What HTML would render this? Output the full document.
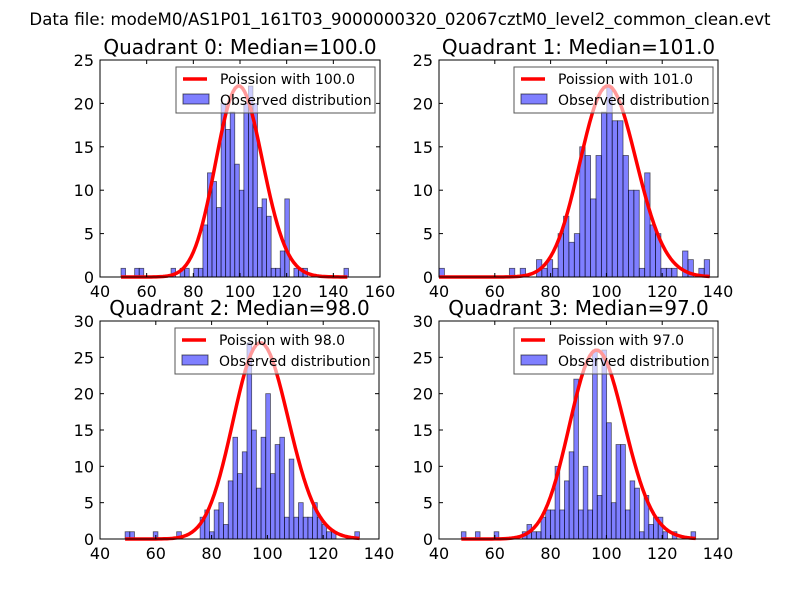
<!DOCTYPE html>
<html><head><meta charset="utf-8"><style>
body{margin:0;background:#fff;}
svg text{font-family:"DejaVu Sans","Liberation Sans",sans-serif;}
</style></head><body>
<svg id="c" width="800" height="600" xmlns="http://www.w3.org/2000/svg">
<rect width="800" height="600" fill="#fff"/>
<text x="400" y="25" text-anchor="middle" font-size="16.6">Data file: modeM0/AS1P01_161T03_9000000320_02067cztM0_level2_common_clean.evt</text>
</svg>
<script>
const q0Counts=[1,0,0,1,1,0,0,0,0,0,0,1,0,1,1,0,1,1,6,12,11,8,20,17,19,13,10,20,22,20,8,9,7,1,1,3,9,0,1,1,1,0,0,0,0,0,0,0,0,1];
const q1Counts=[1,0,0,0,0,0,0,0,0,0,0,0,0,1,0,1,0,0,2,1,2,1,5,7,4,5,15,14,9,14,19,22,18,18,14,10,10,1,12,6,5,1,1,1,0,3,2,0,1,2];
const q2Counts=[1,1,0,0,0,0,1,0,0,0,0,1,0,0,0,0,3,4,1,4,5,2,8,14,9,12,27,15,7,14,20,9,13,14,3,11,3,5,3,3,5,3,2,1,1,0,0,0,0,1];
const q3Counts=[1,0,0,1,0,0,0,1,0,0,0,0,0,1,2,1,1,3,4,4,10,4,8,12,22,4,10,4,26,6,26,16,5,13,13,4,8,7,1,6,2,3,3,1,0,1,0,0,0,1];
const dataMin=[49,40,49,48];
const dataMax=[146.5,137,133,132];
const medians=[100.0,101.0,98.0,97.0];
const sampleCounts=[283,286,399,382];
const xTicks=[[40,60,80,100,120,140,160],[40,60,80,100,120,140],[40,60,80,100,120,140],[40,60,80,100,120,140]];
const yTicks=[[0,5,10,15,20,25],[0,5,10,15,20,25],[0,5,10,15,20,25,30],[0,5,10,15,20,25,30]];
const allCounts=[q0Counts,q1Counts,q2Counts,q3Counts];
const NS='http://www.w3.org/2000/svg';
const svg=document.getElementById('c');
function mk(tag,attrs,parent){const e=document.createElementNS(NS,tag);for(const k in attrs)e.setAttribute(k,attrs[k]);(parent||svg).appendChild(e);return e;}
function lgamma(n){let s=0;for(let i=2;i<=n;i++)s+=Math.log(i);return s;}
const boxes=[[100,60,380,277],[439,60,718,277],[100,321,379,539],[439,321,718,539]];
for(let p=0;p<4;p++){
  const [L,T,R,B]=boxes[p];
  const g=mk('g',{});
  
  
  const xt=xTicks[p],yt=yTicks[p];
  const x0=xt[0],x1=xt[xt.length-1],y1=yt[yt.length-1];
  const sx=v=>L+(v-x0)/(x1-x0)*(R-L);
  const sy=v=>B-v/y1*(B-T);
  const counts=allCounts[p];
  const bw=(dataMax[p]-dataMin[p])/counts.length;
  counts.forEach((c,i)=>{
    if(c<=0)return;
    const a=sx(dataMin[p]+i*bw),b=sx(dataMin[p]+(i+1)*bw);
    const r=mk('rect',{x:a,y:sy(c),width:b-a,height:B-sy(c),fill:'#0000ff','fill-opacity':0.5,stroke:'#000','stroke-opacity':0.6,'stroke-width':0.8},g);
    
    
  });
  const lam=medians[p];let d='';
  for(let k=Math.ceil(dataMin[p]);k<=Math.floor(dataMax[p]);k++){
    const pm=Math.exp(k*Math.log(lam)-lam-lgamma(k));
    const v=pm*sampleCounts[p]*bw;
    d+=(d?'L':'M')+sx(k).toFixed(2)+','+sy(v).toFixed(2);
  }
  const cl=mk('path',{d:d,fill:'none',stroke:'#ff0000','stroke-width':3.5,'stroke-linejoin':'round'},g);
  
  
  const fr=mk('rect',{x:L,y:T,width:R-L,height:B-T,fill:'none',stroke:'#000','stroke-width':1},g);
  
  
  xt.forEach(v=>{
    const x=sx(v);
    mk('line',{x1:x,y1:B,x2:x,y2:B-4,stroke:'#000'},g);
    mk('line',{x1:x,y1:T,x2:x,y2:T+4,stroke:'#000'},g);
    const t=mk('text',{x:x,y:B+20,'text-anchor':'middle','font-size':16},g);t.textContent=v;
    
    
  });
  yt.forEach(v=>{
    const y=sy(v);
    mk('line',{x1:L,y1:y,x2:L+4,y2:y,stroke:'#000'},g);
    mk('line',{x1:R,y1:y,x2:R-4,y2:y,stroke:'#000'},g);
    const t=mk('text',{x:L-6,y:y+6,'text-anchor':'end','font-size':16},g);t.textContent=v;
    
    
  });
  const tt=mk('text',{x:(L+R)/2,y:T-6,'text-anchor':'middle','font-size':20},g);
  tt.textContent='Quadrant '+p+': Median='+medians[p].toFixed(1);
  
  
  const lg=mk('g',{},g);
  
  
  const lx=R-204,ly=T+7;
  mk('rect',{x:lx,y:ly,width:199,height:46,fill:'#fff','fill-opacity':0.6,stroke:'#555','stroke-width':1},lg);
  mk('line',{x1:lx+7,y1:ly+12,x2:lx+31,y2:ly+12,stroke:'#ff0000','stroke-width':3.5},lg);
  const t1=mk('text',{x:lx+44,y:ly+17,'font-size':14},lg);t1.textContent='Poission with '+medians[p].toFixed(1);
  
  
  mk('rect',{x:lx+7,y:ly+27,width:26,height:10,fill:'#0000ff','fill-opacity':0.5,stroke:'#000','stroke-opacity':0.6},lg);
  const t2=mk('text',{x:lx+44,y:ly+38,'font-size':14},lg);t2.textContent='Observed distribution';
  
  
}
</script>
</body></html>
